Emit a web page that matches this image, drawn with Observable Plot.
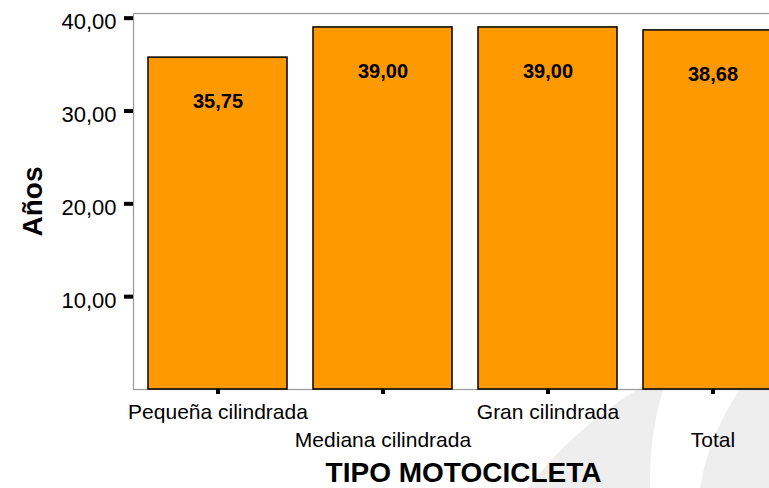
<!DOCTYPE html>
<html>
<head>
<meta charset="utf-8">
<script src="https://cdn.jsdelivr.net/npm/d3@7"></script>
<script src="https://cdn.jsdelivr.net/npm/@observablehq/plot@0.6"></script>
<style>
  html, body { margin: 0; padding: 0; background: #fff; }
  #wrap { position: relative; width: 769px; height: 488px; overflow: hidden; background: #fff; }
  .disc { position: absolute; border-radius: 50%; }
  #chart { position: absolute; left: 0; top: 0; }
</style>
</head>
<body>
<div id="wrap">
  <div class="disc" style="left:443px; top:330px; width:812px; height:812px; background:#eeeeee;"></div>
  <div class="disc" style="left:650px; top:175px; width:606px; height:606px; background:#ffffff;"></div>
  <div class="disc" style="left:696px; top:278px; width:508px; height:508px; background:#eeeeee;"></div>
  <div id="chart"></div>
</div>
<script>
const categories = ["Pequeña cilindrada", "Mediana cilindrada", "Gran cilindrada", "Total"];
const values = [35.75, 39.00, 39.00, 38.68];
const yTicks = [10, 20, 30, 40];
const xTitle = "TIPO MOTOCICLETA";
const yTitle = "Años";

const data = categories.map((cat, i) => ({cat, value: values[i], i}));
const fmt = d => d.toFixed(2).replace(".", ",");

const chart = Plot.plot({
  width: 769,
  height: 488,
  marginTop: 13,
  marginBottom: 99,
  marginLeft: 133,
  marginRight: -24,
  style: {fontFamily: "'Liberation Sans', Arial, sans-serif", background: "transparent", overflow: "hidden", color: "black"},
  x: {domain: categories, range: [135, 795], paddingInner: 0.158, paddingOuter: 0.079, axis: null, label: null},
  y: {domain: [0, 40.5], axis: null, label: null},
  marks: [
    Plot.frame({stroke: "#999", strokeWidth: 1.2}),
    Plot.barY(data, {x: "cat", y: "value", fill: "#FF9900", stroke: "black", strokeWidth: 1.5}),
    Plot.text(data, {x: "cat", y: "value", text: d => fmt(d.value), dy: 44, fontSize: 20, fontWeight: "bold", fill: "black"}),
    Plot.axisY({ticks: yTicks, tickSize: 9, strokeWidth: 4, stroke: "black", tickFormat: () => "", label: null}),
    Plot.text(yTicks, {y: d => d, text: d => fmt(d), frameAnchor: "left", dx: -17, dy: 4, textAnchor: "end", lineAnchor: "middle", fontSize: 22, fill: "black"}),
    Plot.axisX({tickSize: 5, strokeWidth: 4, stroke: "black", tickFormat: () => "", label: null}),
    Plot.text(data.filter(d => d.i % 2 === 0), {x: "cat", text: "cat", frameAnchor: "bottom", lineAnchor: "middle", dy: 23, fontSize: 21, fill: "black"}),
    Plot.text(data.filter(d => d.i % 2 === 1), {x: "cat", text: "cat", frameAnchor: "bottom", lineAnchor: "middle", dy: 51, fontSize: 21, fill: "black"}),
    Plot.text([xTitle], {text: d => d, frameAnchor: "bottom", lineAnchor: "middle", dy: 84, fontSize: 28, fontWeight: "bold", fill: "black"}),
    Plot.text([yTitle], {text: d => d, frameAnchor: "left", textAnchor: "middle", lineAnchor: "middle", dx: -100, rotate: -90, fontSize: 28, fontWeight: "bold", fill: "black"})
  ]
});
document.getElementById("chart").appendChild(chart);
</script>
</body>
</html>
